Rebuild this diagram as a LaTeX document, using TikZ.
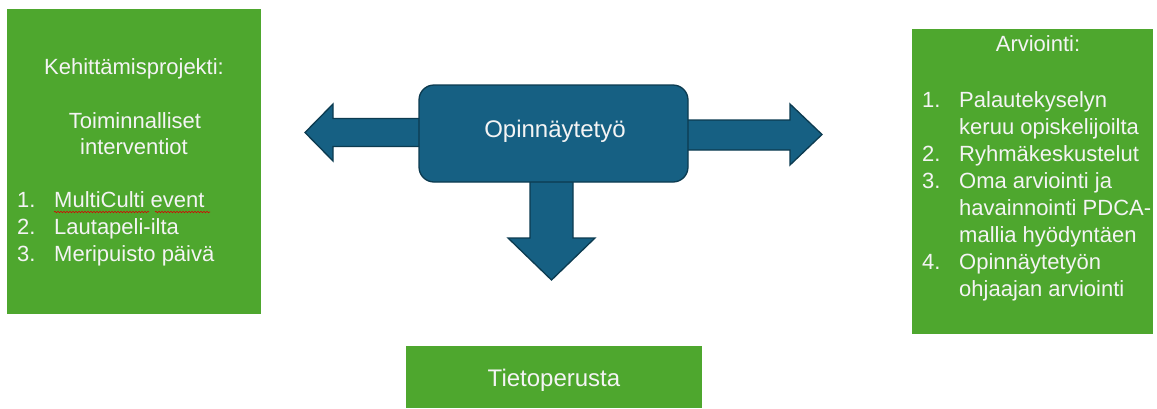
\documentclass[tikz,border=0pt]{standalone}
\usepackage{fontspec}
\setmainfont{Liberation Sans}
\usetikzlibrary{decorations.pathmorphing}
\definecolor{boxgreen}{HTML}{4EA72E}
\definecolor{opblue}{HTML}{166083}
\definecolor{opedge}{HTML}{0C3B50}
\definecolor{txtwhite}{HTML}{F4F4F4}
\tikzset{
  greenbox/.style={fill=boxgreen, draw=none},
  blockarrow/.style={fill=opblue, draw=opedge, line width=1.3pt, line join=miter},
  centerbox/.style={fill=opblue, draw=opedge, line width=1.3pt, rounded corners=15pt},
  txt/.style={text=txtwhite, inner sep=0pt, font=\fontsize{22}{27}\selectfont},
  bigtxt/.style={text=txtwhite, inner sep=0pt, font=\fontsize{24}{29}\selectfont},
  lt/.style={txt, anchor=base west},
  ct/.style={txt, anchor=base},
  squiggle/.style={draw=red!85!black, line width=0.6pt, decorate,
    decoration={snake, amplitude=0.7pt, segment length=3pt}}
}
\begin{document}
\begin{tikzpicture}[x=1pt,y=-1pt]
\useasboundingbox (0,0) rectangle (1157,408);
\fill[white] (0,0) rectangle (1157,408);

% green boxes
\path[greenbox] (7,9) rectangle (261,314);
\path[greenbox] (912,29) rectangle (1153,334);
\path[greenbox] (406,346) rectangle (702,408);

% left box text
\node[ct] (kp) at (134,74) {Kehittämisprojekti:};
\node[ct] (ti1) at (135,128) {Toiminnalliset};
\node[ct] (ti2) at (134,154.5) {interventiot};
\node[lt] (ln1) at (17,207.5) {1.};
\node[lt] (lt1) at (54,207.5) {MultiCulti event};
\node[lt] (ln2) at (17,234.5) {2.};
\node[lt] (lt2) at (54,234.5) {Lautapeli-ilta};
\node[lt] (ln3) at (17,261) {3.};
\node[lt] (lt3) at (54,261) {Meripuisto päivä};
\coordinate (sq1a) at (54,212);
\coordinate (sq1b) at (149,212);
\coordinate (sq2a) at (155,212);
\coordinate (sq2b) at (210,212);
\draw[squiggle] (sq1a) -- (sq1b);
\draw[squiggle] (sq2a) -- (sq2b);

% right box text
\node[ct] (ar) at (1038,51) {Arviointi:};
\node[lt] (rn1) at (922,107.5) {1.};
\node[lt] (rt1) at (959,107.5) {Palautekyselyn};
\node[lt] (rt1b) at (959,134.5) {keruu opiskelijoilta};
\node[lt] (rn2) at (922,161.5) {2.};
\node[lt] (rt2) at (959,161.5) {Ryhmäkeskustelut};
\node[lt] (rn3) at (922,188.5) {3.};
\node[lt] (rt3) at (959,188.5) {Oma arviointi ja};
\node[lt] (rt3b) at (959,215.5) {havainnointi PDCA-};
\node[lt] (rt3c) at (959,242.5) {mallia hyödyntäen};
\node[lt] (rn4) at (922,269.5) {4.};
\node[lt] (rt4) at (959,269.5) {Opinnäytetyön};
\node[lt] (rt4b) at (959,296.5) {ohjaajan arviointi};

% bottom box text
\node[bigtxt, anchor=base] (tp) at (554,386) {Tietoperusta};

% block arrows
\draw[blockarrow] (425,118.5) -- (333,118.5) -- (333,104) -- (305,132.5)
  -- (333,161) -- (333,146.5) -- (425,146.5) -- cycle;
\draw[blockarrow] (682,120) -- (790,120) -- (790,104) -- (822,134.5)
  -- (790,165) -- (790,150) -- (682,150) -- cycle;
\draw[blockarrow] (530,176) -- (530,238) -- (508,238) -- (551.5,280)
  -- (595,238) -- (573,238) -- (573,176) -- cycle;

% central box
\path[centerbox] (419,85) rectangle (688,182);
\node[bigtxt, anchor=base] (op) at (555,137) {Opinnäytetyö};
\end{tikzpicture}
\end{document}
